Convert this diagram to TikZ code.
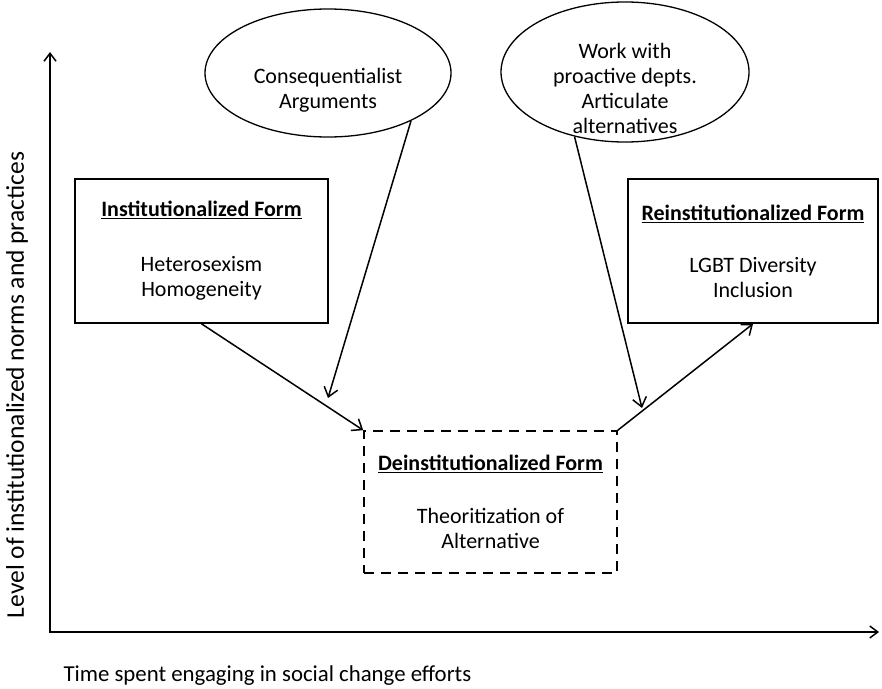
\documentclass[tikz,border=0pt]{standalone}
\usepackage{fontspec}
\setmainfont{Carlito}
\usetikzlibrary{calc,positioning,shapes.geometric,arrows.meta}
\tikzstyle{line} = [draw, line width=1.5pt, -{Straight Barb[length=9pt,width=14pt]}]

\begin{document}
\begin{tikzpicture}[
	x=1pt, y=-1pt,
	every node/.style={font=\fontsize{22}{25}\selectfont},
	form/.style={
		rectangle,
		minimum width=253pt,
		minimum height=144pt,
		line width=1.6pt,
		draw=black,
		align=center,
	},
	transition/.style={
		form,
		minimum height=142pt,
		dash pattern=on 10pt off 7pt,
	},
	driver/.style={
		ellipse,
		inner sep=0pt,
		line width=1.3pt,
		draw=black,
	},
	axis/.style={
		draw,
		line width=1.5pt,
		{Straight Barb[length=8pt,width=12pt]}-{Straight Barb[length=8pt,width=12pt]},
	}
]
	\useasboundingbox (0,0) rectangle (882,688);

	% axes
	\coordinate (ytop) at (50,52);
	\coordinate (xend) at (879,632);
	\draw [axis] (ytop) |- (xend);
	\node (ylabel) [rotate=90,font=\fontsize{25.5}{30}\selectfont] at (17,385)
		{Level of institutionalized norms and practices};
	\node (xlabel) [anchor=west,font=\fontsize{22.8}{27}\selectfont] at (60,676)
		{Time spent engaging in social change efforts};

	% forms
	\node (inst) [form] at (201.5,251)
		{\underline{\textbf{Institutionalized Form}}\\[30pt]Heterosexism\\Homogeneity};
	\node (deinst) [transition] at (490.5,502)
		{\underline{\textbf{Deinstitutionalized Form}}\\[28pt]Theoritization of\\Alternative};
	\node (reinst) [form,minimum width=250pt] at (753,251)
		{\underline{\textbf{Reinstitutionalized Form}}\\[27pt]LGBT Diversity\\Inclusion};

	% drivers of change
	\node (conseq) [driver,minimum width=246pt,minimum height=128pt] at (328,73) {};
	\node (conseqtext) [align=center] at (328,90)
		{Consequentialist\\Arguments};
	\node (proact) [driver,minimum width=248pt,minimum height=140pt] at (625,72) {};
	\node (proacttext) [align=center] at (625,88)
		{Work with\\proactive depts.\\Articulate\\alternatives};

	\coordinate (conseqend) at (328,398);
	\coordinate (proactend) at (642,408);

	\draw [line] (inst.south) -- (deinst.north west);
	\draw [line] (conseq.-30) -- (conseqend);
	\draw [line] (proact.-128) -- (proactend);
	\draw [line] (deinst.north east) -- (reinst.south);

\end{tikzpicture}
\end{document}
